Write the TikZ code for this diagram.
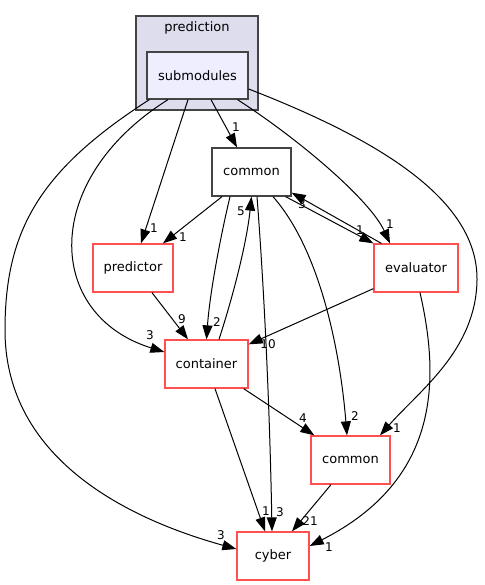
\documentclass[tikz,border=0pt]{standalone}
\usepackage{fontspec}
\setmainfont{DejaVu Sans}
\usetikzlibrary{arrows.meta,positioning}
\definecolor{dirred}{RGB}{255,80,80}
\definecolor{dirgray}{RGB}{68,68,68}
\definecolor{clufill}{RGB}{221,221,238}
\definecolor{subfill}{RGB}{238,238,255}
\begin{document}
\begin{tikzpicture}[x=1pt,y=-1pt,>={Triangle[length=14pt,width=10pt]},line width=1pt,
	dir/.style={draw=dirred,line width=1.3pt,minimum height=48pt,inner sep=0pt,font=\fontsize{13}{13}\selectfont},
	lab/.style={inner sep=0pt,font=\fontsize{12}{12}\selectfont}]
			\useasboundingbox (0,0) rectangle (484,585);
			\node[draw=dirgray,fill=clufill,line width=1.3pt,minimum width=122pt,minimum height=94pt,inner sep=0pt] (prediction) at (197,63) {};
			\node[lab,font=\fontsize{13}{13}\selectfont,below=6pt of prediction.north] (predlab) {prediction};
			\node[dir,draw=dirgray,fill=subfill,minimum width=101pt,minimum height=47pt] (sub) at (197.5,75.5) {submodules};
			\node[dir,draw=dirgray,fill=white,minimum width=79pt] (ctop) at (251.5,172) {common};
			\node[dir,minimum width=80pt] (pred) at (133,268) {predictor};
			\node[dir,minimum width=84pt] (eval) at (416,268) {evaluator};
			\node[dir,minimum width=83pt] (cont) at (206.5,364) {container};
			\node[dir,minimum width=79pt] (cbot) at (350.5,460) {common};
			\node[dir,minimum width=72pt] (cyber) at (273,556) {cyber};
			% from submodules
			\draw[->]([xshift=13.5pt]sub.south)--([xshift=-14.5pt]ctop.north)node[lab] at (236,127){1};
			\draw[->]([xshift=-9.5pt]sub.south)--([xshift=8pt]pred.north)node[lab] at (154,228){1};
			\draw[->]([xshift=-29.5pt]sub.south)..controls(40,180)and(45,315)..([yshift=12pt]cont.west)node[lab] at (150,335){3};
			\draw[->]([xshift=3pt]sub.south west)..controls(40,170)and(5,230)..(5,330)..controls(5,470)and(150,525)..([yshift=7pt]cyber.west)node[lab] at (221,535){3};
			\draw[->]([xshift=40pt]sub.south)..controls(300,140)and(370,200)..([xshift=-26pt]eval.north)node[lab] at (390,224){1};
			\draw[->]([yshift=-13.5pt]sub.east)..controls(380,140)and(478,200)..(477,280)..controls(476,350)and(420,390)..([xshift=29.5pt]cbot.north)node[lab] at (397,428){1};
			% from common
			\draw[->]([xshift=-29.5pt]ctop.south)--([xshift=30pt]pred.north)node[lab] at (183,237){1};
			\draw[->]([xshift=-6pt]ctop.south east)--(eval.north west)node[lab] at (360,230){1};
			\draw[->]([xshift=-21.5pt]ctop.south)..controls(222,230)and(210,290)..(cont.north)node[lab] at (217,322){2};
			\draw[->]([xshift=5.5pt]ctop.south)..controls(265,300)and(270,420)..([xshift=-1pt]cyber.north)node[lab] at (280,512){3};
			\draw[->]([xshift=21.5pt]ctop.south)..controls(320,250)and(340,350)..([xshift=-3.5pt]cbot.north)node[lab] at (355,416){2};
			% the rest
			\draw[->]([xshift=8pt]eval.north west)--([yshift=4pt]ctop.south east)node[lab] at (302,204){3};
			\draw[->]([xshift=12.5pt]cont.north)..controls(235,290)and(247,240)..(ctop.south)node[lab] at (241,211){5};
			\draw[->]([xshift=19pt]pred.south)--([xshift=-18.5pt]cont.north)node[lab] at (182,319){9};
			\draw[->]([yshift=4pt]eval.south west)--([yshift=-5pt]cont.north east)node[lab] at (268,344){10};
			\draw[->]([xshift=4pt]eval.south)..controls(440,380)and(440,480)..([yshift=10pt]cyber.east)node[lab] at (329,547){1};
			\draw[->]([xshift=-5pt]cont.south east)--([xshift=4pt]cbot.north west)node[lab] at (303,418){4};
			\draw[->]([xshift=8.5pt]cont.south)--([xshift=-8pt]cyber.north)node[lab] at (266,511){1};
			\draw[->]([xshift=-19.5pt]cbot.south)--([xshift=19pt]cyber.north)node[lab] at (310,521){21};
		\end{tikzpicture}
\end{document}
